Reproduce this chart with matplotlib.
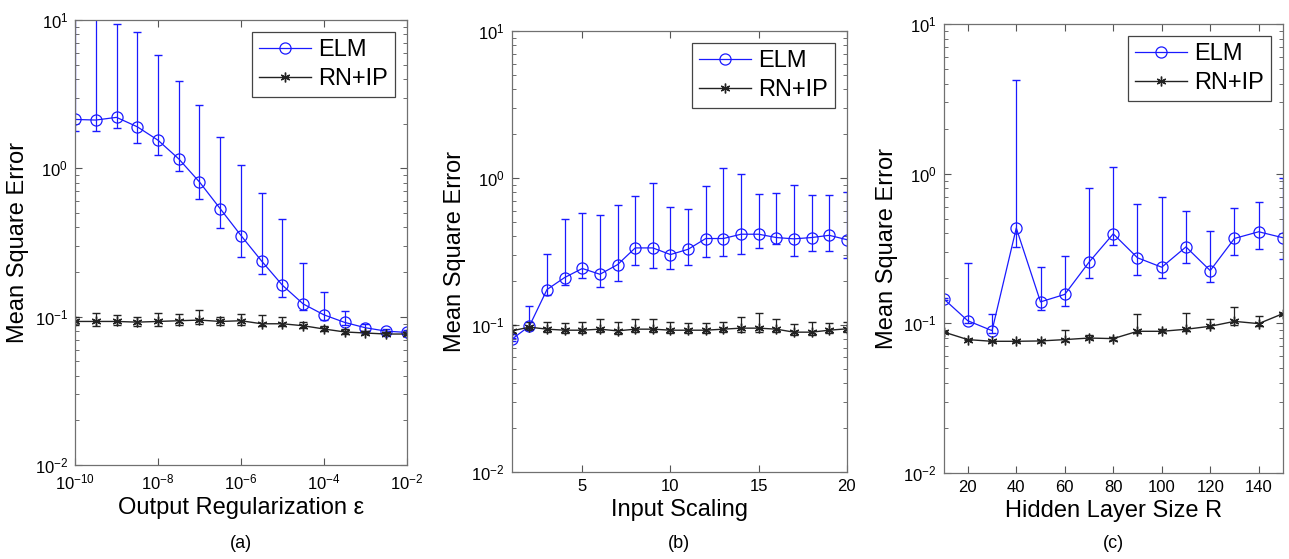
import matplotlib.pyplot as plt
from matplotlib.ticker import LogLocator, NullFormatter

plt.rcParams['font.family'] = ['Liberation Sans Narrow', 'Liberation Sans', 'DejaVu Sans']
plt.rcParams['mathtext.fontset'] = 'custom'
plt.rcParams['mathtext.rm'] = 'Liberation Sans'

# (a) output regularization
eps_exp = [-10, -9.5, -9, -8.5, -8, -7.5, -7, -6.5, -6, -5.5, -5, -4.5, -4, -3.5, -3, -2.5, -2]
elm_a = [2.14, 2.12, 2.21, 1.91, 1.55, 1.16, 0.81, 0.535, 0.353, 0.237, 0.163, 0.122, 0.103, 0.0916, 0.0843, 0.080, 0.0784]
elm_a_lo = [1.79, 1.78, 1.87, 1.49, 1.23, 0.96, 0.618, 0.396, 0.252, 0.194, 0.135, 0.111, 0.0955, 0.088, 0.080, 0.078, 0.0765]
elm_a_hi = [14.0, 12.0, 9.35, 8.26, 5.81, 3.90, 2.67, 1.63, 1.06, 0.678, 0.455, 0.232, 0.146, 0.1086, 0.0893, 0.083, 0.082]
rn_a = [0.093, 0.093, 0.093, 0.092, 0.093, 0.094, 0.095, 0.093, 0.094, 0.0897, 0.0897, 0.087, 0.0827, 0.079, 0.0777, 0.0765, 0.0765]
rn_a_lo = [0.088, 0.087, 0.088, 0.087, 0.087, 0.088, 0.089, 0.088, 0.088, 0.086, 0.086, 0.084, 0.080, 0.077, 0.076, 0.075, 0.075]
rn_a_hi = [0.099, 0.106, 0.102, 0.0995, 0.106, 0.1036, 0.111, 0.0995, 0.104, 0.102, 0.0995, 0.0925, 0.086, 0.083, 0.0797, 0.079, 0.079]

# (b) input scaling
scaling = list(range(1, 21))
elm_b = [0.0798, 0.098, 0.174, 0.210, 0.242, 0.221, 0.257, 0.334, 0.334, 0.301, 0.327, 0.387, 0.387, 0.414, 0.414, 0.393, 0.385, 0.393, 0.407, 0.380]
elm_b_lo = [0.078, 0.094, 0.159, 0.188, 0.209, 0.180, 0.198, 0.257, 0.244, 0.239, 0.255, 0.290, 0.295, 0.306, 0.331, 0.354, 0.293, 0.317, 0.317, 0.283]
elm_b_hi = [0.082, 0.134, 0.303, 0.529, 0.581, 0.557, 0.659, 0.755, 0.925, 0.635, 0.616, 0.878, 1.16, 1.06, 0.782, 0.795, 0.901, 0.770, 0.763, 0.803]
rn_b = [0.091, 0.0965, 0.0935, 0.092, 0.092, 0.0935, 0.091, 0.0935, 0.0935, 0.092, 0.092, 0.092, 0.0935, 0.095, 0.095, 0.0935, 0.0892, 0.0892, 0.092, 0.094]
rn_b_lo = [0.087, 0.092, 0.089, 0.088, 0.088, 0.089, 0.087, 0.089, 0.089, 0.088, 0.088, 0.088, 0.089, 0.090, 0.090, 0.089, 0.085, 0.085, 0.088, 0.090]
rn_b_hi = [0.0995, 0.104, 0.104, 0.1035, 0.104, 0.109, 0.104, 0.109, 0.109, 0.105, 0.103, 0.1035, 0.104, 0.113, 0.121, 0.109, 0.1016, 0.104, 0.103, 0.105]

# (c) hidden layer size
hidden = [10, 20, 30, 40, 50, 60, 70, 80, 90, 100, 110, 120, 130, 140, 150]
elm_c = [0.146, 0.104, 0.0893, 0.433, 0.139, 0.156, 0.256, 0.396, 0.274, 0.237, 0.324, 0.225, 0.369, 0.409, 0.373]
elm_c_lo = [0.144, 0.100, 0.086, 0.324, 0.122, 0.131, 0.201, 0.336, 0.210, 0.201, 0.253, 0.190, 0.284, 0.315, 0.270]
elm_c_hi = [0.148, 0.253, 0.116, 4.22, 0.238, 0.281, 0.806, 1.11, 0.630, 0.698, 0.565, 0.415, 0.589, 0.646, 0.94]
rn_c = [0.0875, 0.0778, 0.0758, 0.0758, 0.0762, 0.0778, 0.0797, 0.079, 0.0884, 0.0884, 0.0912, 0.0955, 0.103, 0.0995, 0.116]
rn_c_lo = [0.087, 0.0770, 0.0750, 0.0750, 0.0755, 0.0760, 0.0785, 0.077, 0.0860, 0.0870, 0.0890, 0.0930, 0.097, 0.0960, 0.115]
rn_c_hi = [0.088, 0.0790, 0.0765, 0.0765, 0.0770, 0.0898, 0.0830, 0.081, 0.116, 0.091, 0.118, 0.107, 0.129, 0.112, 0.117]

eps = [10 ** e for e in eps_exp]

fig = plt.figure(figsize=(12.89, 5.59), dpi=100)
boxes = [[0.0582, 0.168, 0.2575, 0.796],
         [0.397, 0.156, 0.260, 0.7885],
         [0.732, 0.154, 0.2633, 0.803]]
panels = [
    (eps, elm_a, elm_a_lo, elm_a_hi, rn_a, rn_a_lo, rn_a_hi, "Output Regularization \u03b5", "(a)"),
    (scaling, elm_b, elm_b_lo, elm_b_hi, rn_b, rn_b_lo, rn_b_hi, "Input Scaling", "(b)"),
    (hidden, elm_c, elm_c_lo, elm_c_hi, rn_c, rn_c_lo, rn_c_hi, "Hidden Layer Size R", "(c)"),
]
blue = "#1a1aff"
dark = "#222222"
asterisk = (6, 2, 0)

for i, (x, e, elo, ehi, r, rlo, rhi, xlabel, tag) in enumerate(panels):
    ax = fig.add_axes(boxes[i])
    e_err = [[v - lo for v, lo in zip(e, elo)], [hi - v for v, hi in zip(e, ehi)]]
    r_err = [[v - lo for v, lo in zip(r, rlo)], [hi - v for v, hi in zip(r, rhi)]]
    ax.errorbar(x, e, yerr=e_err, fmt="none", ecolor=blue, capsize=3, elinewidth=0.9)
    ax.errorbar(x, r, yerr=r_err, fmt="none", ecolor=dark, capsize=3, elinewidth=0.9)
    ax.plot(x, e, color=blue, lw=0.9, marker="o", ms=8, mfc="none", mew=0.9, label="ELM")
    ax.plot(x, r, color=dark, lw=1.0, marker=asterisk, ms=7, mew=1.0, label="RN+IP")
    ax.set_yscale("log")
    ax.set_ylim(1e-2, 1e1)
    ax.yaxis.set_major_locator(LogLocator(base=10, numticks=10))
    ax.yaxis.set_minor_locator(LogLocator(base=10, subs=range(2, 10), numticks=10))
    ax.yaxis.set_minor_formatter(NullFormatter())
    if i == 0:
        ax.set_xscale("log")
        ax.set_xlim(1e-10, 1e-2)
        ax.set_xticks([1e-10, 1e-8, 1e-6, 1e-4, 1e-2])
        ax.xaxis.set_minor_locator(plt.NullLocator())
    elif i == 1:
        ax.set_xlim(1, 20)
        ax.set_xticks([5, 10, 15, 20])
    else:
        ax.set_xlim(10, 150)
        ax.set_xticks([20, 40, 60, 80, 100, 120, 140])
    ax.tick_params(which="both", direction="in", top=True, right=True,
                   labelsize=12, color="#555555", pad=5)
    ax.tick_params(which="major", length=5)
    ax.tick_params(which="minor", length=3)
    for s in ax.spines.values():
        s.set_color("#707070")
        s.set_linewidth(0.9)
    ax.set_xlabel(xlabel, fontsize=17)
    ax.set_ylabel("Mean Square Error", fontsize=17)
    leg = ax.legend(loc="upper right", fontsize=17, fancybox=False, framealpha=1,
                    edgecolor="#444444", handlelength=2.2, borderpad=0.3,
                    labelspacing=0.3, handletextpad=0.3, borderaxespad=0.5)
    leg.get_frame().set_linewidth(0.9)
    fig.text(boxes[i][0] + boxes[i][2] / 2, 0.02, tag, fontsize=13, ha="center")

fig.savefig("out.png", dpi=100)
